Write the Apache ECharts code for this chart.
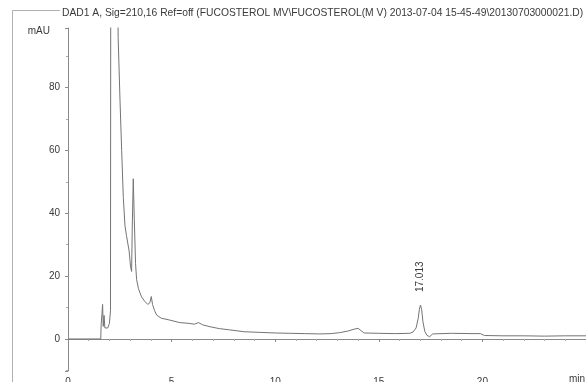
<!DOCTYPE html>
<html>
<head>
<meta charset="utf-8">
<script src="https://cdn.jsdelivr.net/npm/echarts@6/dist/echarts.min.js"></script>
<style>
  html, body { margin: 0; padding: 0; background: #fff; }
  #chart { width: 586px; height: 382px; }
</style>
</head>
<body>
<div id="chart"></div>
<script>
// DAD1 A chromatogram, signal 210 nm
const titleText = 'DAD1 A, Sig=210,16 Ref=off (FUCOSTEROL MV\\FUCOSTEROL(M V) 2013-07-04 15-45-49\\20130703000021.D)';

// retention time (min)
const timeMin = [
  0, 1.58, 1.6, 1.64, 1.67, 1.70, 1.74, 1.78, 1.84, 1.92, 2.0, 2.05,
  2.2, 2.38, 2.42, 2.51, 2.59, 2.67, 2.75, 2.82, 2.89, 2.95, 3.02, 3.07,
  3.1, 3.15, 3.2, 3.26, 3.31, 3.4, 3.55, 3.7, 3.85, 3.95, 4.02, 4.08,
  4.18, 4.28, 4.5, 4.92, 5.4, 5.8, 6.1, 6.3, 6.5, 6.85, 7.3, 7.8,
  8.5, 9.26, 10.0, 10.7, 11.4, 12.15, 12.7, 13.1, 13.5, 13.8, 14.0, 14.15,
  14.3, 15.0, 15.8, 16.5, 16.65, 16.8, 16.9, 16.96, 17.013, 17.07, 17.13, 17.22,
  17.32, 17.45, 17.6, 18.5, 19.5, 19.9, 20.1, 21.0, 22.0, 23.0, 24.0, 25.0
];
// detector response (mAU)
const signalMAU = [
  0, 0, 4.5, 8, 11, 4, 7.5, 3.5, 3, 3.5, 5, 9,
  1200, 130, 96, 76, 60, 45, 36, 33, 33.5, 28, 23, 21.5,
  35, 51, 38, 24, 19, 16, 13.4, 12, 11, 11.5, 13.5, 11,
  9, 7.6, 6.6, 6, 5.2, 5, 4.7, 5.2, 4.5, 3.9, 3.3, 2.9,
  2.3, 2.1, 1.9, 1.8, 1.7, 1.6, 1.7, 2.0, 2.5, 3.1, 3.4, 2.6,
  1.9, 1.8, 1.7, 1.8, 2.2, 3.5, 6.5, 9.5, 10.8, 9.3, 5.5, 2.4,
  1.2, 0.7, 1.6, 1.8, 1.7, 1.7, 1.1, 1.0, 1.0, 0.9, 1.0, 1.0
];
// integrated peak annotation
const peakTime = 17.013;
const peakLabel = '17.013';

const xTickLabels = ['0', '5', '10', '15', '20'];
const yTickLabels = ['0', '20', '40', '60', '80'];
const xUnit = 'min';
const yUnit = 'mAU';

const trace = timeMin.map((t, i) => [t, signalMAU[i]]);
const peakIdx = timeMin.indexOf(peakTime);

const chart = echarts.init(document.getElementById('chart'), null, { renderer: 'canvas' });
const textColor = '#3a3a3a';
const axisColor = '#8a8a8a';
const font = 'Liberation Sans, Arial, sans-serif';

chart.setOption({
  animation: false,
  backgroundColor: '#fff',
  textStyle: { fontFamily: font },
  graphic: [
    { type: 'line', shape: { x1: 12.5, y1: 10.5, x2: 12.5, y2: 382 }, style: { stroke: '#b0b0b0', lineWidth: 1 } },
    { type: 'line', shape: { x1: 12.5, y1: 10.5, x2: 60, y2: 10.5 }, style: { stroke: '#b0b0b0', lineWidth: 1 } },
    { type: 'text', left: 62, top: 8, style: { text: titleText, fill: textColor, font: '10.3px ' + font } },
    // time unit under the right end of the x axis
    { type: 'text', right: 1, top: 374, style: { text: xUnit, fill: textColor, font: '10px ' + font } }
  ],
  grid: { left: 68, right: 0, top: 28, bottom: 11, containLabel: false, outerBoundsMode: 'none' },
  xAxis: {
    type: 'value', min: 0, max: 25, interval: 5,
    axisLine: { lineStyle: { color: axisColor, width: 1 } },
    axisTick: { show: true, length: 3, lineStyle: { color: axisColor } },
    minorTick: { show: true, splitNumber: 5, length: 2, lineStyle: { color: '#aaa' } },
    splitLine: { show: false },
    axisLabel: {
      color: textColor, fontSize: 10, margin: 6,
      formatter: v => xTickLabels.includes(String(v)) ? String(v) : ''
    }
  },
  yAxis: {
    type: 'value', min: -10.2, max: 99, splitNumber: 5,
    name: yUnit, nameLocation: 'end', nameGap: -3, nameMoveOverlap: false,
    nameTextStyle: { color: textColor, fontSize: 10, align: 'right', verticalAlign: 'middle', padding: [0, 18, 0, 0] },
    axisLine: { show: true, lineStyle: { color: axisColor, width: 1 } },
    axisTick: { show: true, length: 3, lineStyle: { color: axisColor } },
    minorTick: { show: true, splitNumber: 2, length: 2, lineStyle: { color: '#aaa' } },
    splitLine: { show: false },
    axisLabel: {
      color: textColor, fontSize: 10, margin: 8,
      formatter: v => yTickLabels.includes(String(v)) ? String(v) : ''
    }
  },
  series: [
    {
      type: 'line',
      data: trace,
      clip: true,
      symbol: 'none',
      lineStyle: { color: '#747474', width: 1 },
      markPoint: {
        symbol: 'circle', symbolSize: 0,
        label: {
          show: true, formatter: peakLabel, rotate: 90,
          position: 'top', distance: 13, align: 'left', verticalAlign: 'middle',
          color: textColor, fontSize: 10, fontFamily: font
        },
        data: [{ coord: trace[peakIdx] }]
      }
    }
  ]
});
</script>
</body>
</html>
